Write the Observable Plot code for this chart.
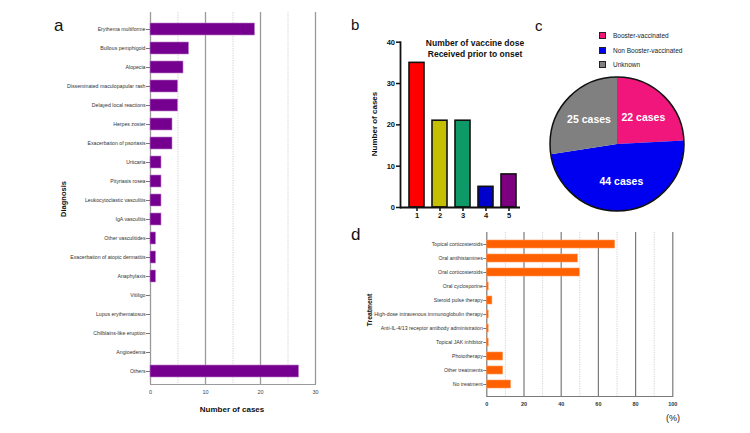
<!DOCTYPE html>
<html><head><meta charset="utf-8">
<script src="https://cdn.jsdelivr.net/npm/d3@7"></script>
<script src="https://cdn.jsdelivr.net/npm/@observablehq/plot@0.6"></script>
<style>
body{margin:0;background:#fff;}
#root{position:relative;width:750px;height:433px;overflow:hidden;font-family:"Liberation Sans",Arial,sans-serif;background:#fff;}
.panel{position:absolute;}
.panel svg{overflow:visible;background:transparent;}
#pb text{font-weight:bold;}
#pd g[aria-label="x-axis tick label"] text{font-weight:bold;}
#overlay{position:absolute;left:0;top:0;pointer-events:none;overflow:visible;}
</style></head>
<body><div id="root"></div>
<script>
// ---------- data ----------
const diagnoses = ["Erythema multiforme","Bullous pemphigoid","Alopecia","Disseminated maculopapular rash","Delayed local reactions","Herpes zoster","Exacerbation of psoriasis","Urticaria","Pityriasis rosea","Leukocytoclastic vasculitis","IgA vasculitis","Other vasculitides","Exacerbation of atopic dermatitis","Anaphylaxis","Vitiligo","Lupus erythematosus","Chilblains-like eruption","Angioedema","Others"];
const diagnosisCases = [19,7,6,5,5,4,4,2,2,2,2,1,1,1,0,0,0,0,27];
const aTicks = [0,10,20,30];

const doses = ["1","2","3","4","5"];
const doseCases = [35,21,21,5,8];
const doseColors = ["#ff0000","#c4bf00","#0e9a68","#0000cc","#7c0080"];
const bTicks = [0,10,20,30,40];

const boosterGroups = ["Booster-vaccinated","Non Booster-vaccinated","Unknown"];
const boosterCases = [22,44,25];
const boosterColors = ["#f0167c","#0000f0","#808080"];

const treatments = ["Topical corticosteroids","Oral antihistamines","Oral corticosteroids","Oral cyclosporine","Steroid pulse therapy","High-dose intravenous immunoglobulin therapy","Anti-IL-4/13 receptor antibody administration","Topical JAK inhibitor","Phototherapy","Other treatments","No treatment"];
const treatmentPct = [69,49,50,1,3,1,1,1,8.8,8.8,13];
const dTicks = [0,20,40,60,80,100];

const FONT = '"Liberation Sans",Arial,sans-serif';
const root = document.getElementById("root");
function place(node, id, left, top){
  const div = document.createElement("div");
  div.className = "panel"; div.id = id;
  div.style.left = left+"px"; div.style.top = top+"px";
  div.appendChild(node); root.appendChild(div);
}

// ---------- panel a ----------
const dataA = diagnoses.map((d,i)=>({diagnosis:d, cases:diagnosisCases[i]}));
const plotA = Plot.plot({
  width:330, height:420, marginLeft:150, marginRight:15, marginTop:12, marginBottom:36,
  style:{fontFamily:FONT, fontSize:"5.2px", color:"#333", background:"transparent"},
  x:{domain:[0,30]},
  y:{domain:diagnoses, paddingInner:0.37, paddingOuter:0.185, insetTop:5, insetBottom:2},
  marks:[
    Plot.ruleX([5,15,25],{stroke:"#c4c4c4", strokeWidth:0.8, strokeDasharray:"1.2,1.2"}),
    Plot.ruleX([10,20,30],{stroke:"#9a9a9a", strokeWidth:1.3}),
    Plot.ruleX([0],{stroke:"#9a9a9a", strokeWidth:1.3}),
    Plot.frame({anchor:"bottom", stroke:"#9a9a9a", strokeWidth:1}),
    Plot.barX(dataA.filter(d=>d.cases>0),{x:"cases", y:"diagnosis", fill:"#75008f", stroke:"#b77fc9", strokeWidth:0.6}),
    Plot.axisY({tickSize:4, tickPadding:1, label:null, stroke:"#777"}),
    Plot.axisX({ticks:aTicks, tickSize:0, tickPadding:6, label:null, fill:"#444", fontSize:5.5})
  ]
});
place(plotA, "pa", 0, 0);

// ---------- panel b ----------
const dataB = doses.map((d,i)=>({dose:d, cases:doseCases[i], color:doseColors[i]}));
const plotB = Plot.plot({
  width:185, height:210, marginLeft:60, marginRight:5, marginTop:21.7, marginBottom:23,
  style:{fontFamily:FONT, fontSize:"7.5px", color:"#111", background:"transparent"},
  x:{domain:doses, paddingInner:0.36, paddingOuter:0.18, insetLeft:5},
  y:{domain:[0,40]},
  marks:[
    Plot.barY(dataB,{x:"dose", y:"cases", fill:"color", stroke:"#111", strokeWidth:1.6}),
    Plot.ruleY([0],{stroke:"#111", strokeWidth:1.8}),
    Plot.frame({anchor:"left", stroke:"#111", strokeWidth:1.8}),
    Plot.axisY({ticks:bTicks, tickSize:4, tickPadding:1.5, strokeWidth:1.5, label:null}),
    Plot.axisX({tickSize:4, tickPadding:1.5, strokeWidth:1.5, label:null})
  ]
});
place(plotB, "pb", 340, 20);

// ---------- panel c ----------
const dataC = boosterGroups.map((g,i)=>({group:g, cases:boosterCases[i], color:boosterColors[i]}));
const pieArcs = d3.pie().sort(null).value(d=>d.cases)(dataC);
const labelR = 0.56;
const pieLabels = pieArcs.map(a=>{
  const m = (a.startAngle+a.endAngle)/2;
  return {lx: labelR*Math.sin(m), ly: labelR*Math.cos(m), label: a.data.cases + " cases"};
});
const plotC = Plot.plot({
  width:142, height:142, margin:4,
  style:{fontFamily:FONT, background:"transparent"},
  x:{domain:[-1,1], axis:null}, y:{domain:[-1,1], axis:null},
  marks:[
    (index, scales) => {
      const cx = scales.x(0), cy = scales.y(0), r = scales.x(1)-scales.x(0);
      const arc = d3.arc().innerRadius(0).outerRadius(r);
      const g = d3.create("svg:g").attr("transform",`translate(${cx},${cy})`);
      g.selectAll("path").data(pieArcs).join("path").attr("d", arc).attr("fill", d=>d.data.color);
      g.append("circle").attr("r", r).attr("fill","none").attr("stroke","#111").attr("stroke-width",1.5);
      return g.node();
    },
    Plot.text(pieLabels,{x:"lx", y:"ly", text:"label", fill:"white", fontWeight:"bold", fontSize:10.5})
  ]
});
place(plotC, "pc", 546, 73);

// legend c
const leg = document.createElement("div");
leg.className = "panel"; leg.style.left = "599px";
boosterGroups.forEach((g,i)=>{
  const row = document.createElement("div");
  row.style.cssText = "display:flex;align-items:center;height:14.3px;font-size:6.5px;color:#222;font-family:"+FONT;
  const sw = document.createElement("span");
  sw.style.cssText = `display:inline-block;width:5px;height:5px;border:1px solid #222;background:${boosterColors[i]};margin-right:7px;`;
  row.appendChild(sw);
  row.appendChild(document.createTextNode(g));
  leg.appendChild(row);
});
leg.style.top = (36 - 7.15) + "px";
root.appendChild(leg);

// ---------- panel d ----------
const dataD = treatments.map((t,i)=>({treatment:t, pct:treatmentPct[i]}));
const plotD = Plot.plot({
  width:320, height:200, marginLeft:126.3, marginRight:7.7, marginTop:7, marginBottom:29,
  style:{fontFamily:FONT, fontSize:"5.2px", color:"#333", background:"transparent"},
  x:{domain:[0,100]},
  y:{domain:treatments, paddingInner:0.4, paddingOuter:0.2, insetTop:2.4, insetBottom:1.4},
  marks:[
    Plot.ruleX([10,30,50,70,90],{stroke:"#c8c8c8", strokeWidth:0.8, strokeDasharray:"1.2,1.2"}),
    Plot.ruleX([20,40,60,80,100],{stroke:"#7a7a7a", strokeWidth:1.2}),
    Plot.ruleX([0],{stroke:"#7a7a7a", strokeWidth:1.2}),
    Plot.frame({anchor:"bottom", stroke:"#7a7a7a", strokeWidth:1.2}),
    Plot.barX(dataD,{x:"pct", y:"treatment", fill:"#ff6000", stroke:"#ff9a5c", strokeWidth:0.6}),
    Plot.axisY({tickSize:3, tickPadding:1, label:null, stroke:"#777"}),
    Plot.axisX({ticks:dTicks, tickSize:0, tickPadding:6, label:null, fill:"#333", fontSize:5.5})
  ]
});
place(plotD, "pd", 360, 225);

// ---------- annotation text ----------
const ns = "http://www.w3.org/2000/svg";
const ov = document.createElementNS(ns,"svg");
ov.setAttribute("id","overlay"); ov.setAttribute("width",750); ov.setAttribute("height",433);
ov.style.fontFamily = FONT;
function t(str, x, y, opts={}){
  const el = document.createElementNS(ns,"text");
  el.textContent = str;
  el.setAttribute("x", x); el.setAttribute("y", y);
  el.setAttribute("font-size", opts.size||8);
  if (opts.bold) el.setAttribute("font-weight","bold");
  el.setAttribute("text-anchor", opts.anchor||"start");
  el.setAttribute("fill", opts.fill||"#111");
  if (opts.rot) { el.setAttribute("transform",`rotate(-90 ${x} ${y})`); }
  ov.appendChild(el);
}
t("a", 54, 31, {size:17});
t("b", 351, 30, {size:15});
t("c", 535, 31, {size:15});
t("d", 351, 240, {size:17});
t("Diagnosis", 66, 199, {size:7.5, bold:true, anchor:"middle", rot:true});
t("Number of cases", 232, 412, {size:8, bold:true, anchor:"middle"});
t("Number of cases", 377, 124, {size:8, bold:true, anchor:"middle", rot:true});
t("Number of vaccine dose", 475, 46, {size:8.5, bold:true, anchor:"middle"});
t("Received prior to onset", 475, 56.5, {size:8.5, bold:true, anchor:"middle"});
t("Treatment", 371.5, 310, {size:6.8, bold:true, anchor:"middle", rot:true});
t("(%)", 673, 421, {size:9, anchor:"middle", fill:"#222"});
root.appendChild(ov);
</script>
</body></html>
